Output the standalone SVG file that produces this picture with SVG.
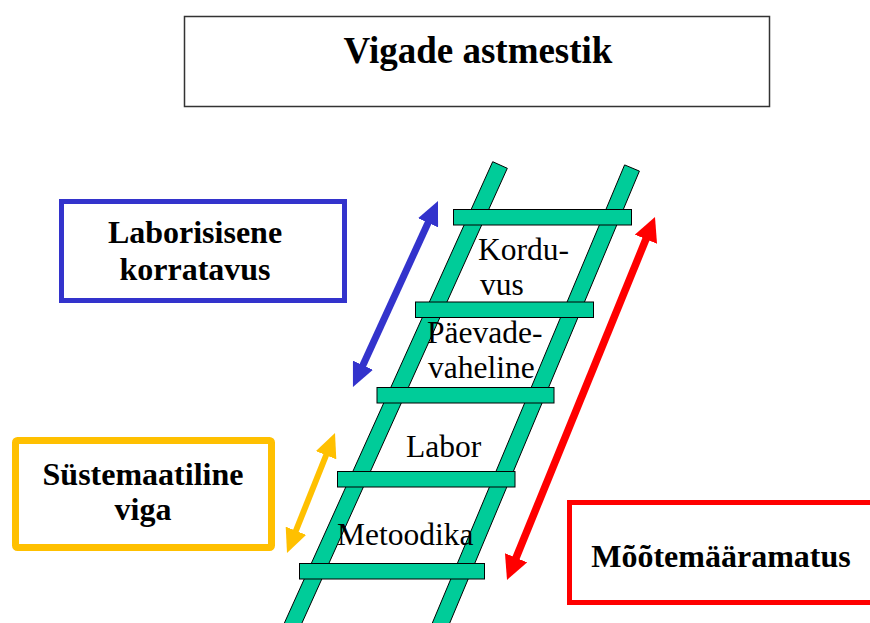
<svg xmlns="http://www.w3.org/2000/svg" width="870" height="623" viewBox="0 0 870 623">
<style>
.rail{fill:#00CC99;stroke:#000;stroke-width:1}
.rung{fill:#00CC99;stroke:#000;stroke-width:1}
.lbl{font-family:"Liberation Serif","Times New Roman",serif;font-size:31.5px;fill:#000}
.bold{font-family:"Liberation Serif","Times New Roman",serif;font-size:32px;font-weight:bold;fill:#000;text-anchor:middle}
.shaft{fill:none;stroke-linecap:butt}
</style>
<defs>
<marker id="hb" markerUnits="userSpaceOnUse" viewBox="0 0 24 22" refX="10" refY="11" markerWidth="24" markerHeight="22" orient="auto-start-reverse"><path d="M0,0 L24,11 L0,22 Z" fill="#3333CC"/></marker>
<marker id="hy" markerUnits="userSpaceOnUse" viewBox="0 0 24 22" refX="10" refY="11" markerWidth="24" markerHeight="22" orient="auto-start-reverse"><path d="M0,0 L24,11 L0,22 Z" fill="#FFC000"/></marker>
<marker id="hr" markerUnits="userSpaceOnUse" viewBox="0 0 24 24" refX="10" refY="12" markerWidth="24" markerHeight="24" orient="auto-start-reverse"><path d="M0,0 L24,12 L0,24 Z" fill="#FF0000"/></marker>
</defs>
<rect width="870" height="623" fill="#fff"/>

<g id="title">
<rect x="184.5" y="16.5" width="585" height="90" fill="#fff" stroke="#333" stroke-width="1.5"/>
<text x="478" y="63" class="bold" style="font-size:37px">Vigade astmestik</text>
</g>

<g id="ladder">
<polygon class="rail" points="492.7,161.7 507.3,168.3 292.8,643.3 278.2,636.7"/>
<polygon class="rail" points="624.6,164.9 639.4,171.1 441.3,643.1 426.5,636.9"/>
<rect class="rung" x="453.5" y="209.5" width="178" height="15.5"/>
<rect class="rung" x="415.5" y="302" width="178" height="15.5"/>
<rect class="rung" x="377" y="387.5" width="177" height="15.5"/>
<rect class="rung" x="337.5" y="471.5" width="177.5" height="15.5"/>
<rect class="rung" x="299.5" y="563.5" width="185" height="15.5"/>
</g>

<g id="step-kordu">
<text class="lbl" x="478" y="260">Kordu-</text>
<text class="lbl" x="480" y="295">vus</text>
</g>
<g id="step-paevade">
<text class="lbl" x="427" y="343">Päevade-</text>
<text class="lbl" x="428" y="378">vaheline</text>
</g>
<g id="step-labor">
<text class="lbl" x="406" y="457">Labor</text>
</g>
<g id="step-metoodika">
<text class="lbl" x="337" y="545">Metoodika</text>
</g>

<g id="box-labor">
<rect x="61.5" y="201.5" width="283" height="99" fill="#fff" stroke="#3333CC" stroke-width="5"/>
<text class="bold" x="195" y="243">Laborisisene</text>
<text class="bold" x="195" y="280">korratavus</text>
</g>

<g id="box-systematic">
<rect x="15.5" y="440.5" width="256" height="107" rx="2" fill="#fff" stroke="#FFC000" stroke-width="7" stroke-linejoin="round"/>
<text class="bold" x="143" y="485">Süstemaatiline</text>
<text class="bold" x="143" y="520">viga</text>
</g>

<g id="box-uncertainty">
<rect x="569.5" y="502.5" width="310" height="100" fill="#fff" stroke="#FF0000" stroke-width="5"/>
<text class="bold" x="721" y="567">Mõõtemääramatus</text>
</g>

<g id="connectors">
<line class="shaft" x1="358.8" y1="374.3" x2="432.2" y2="213.7" stroke="#3333CC" stroke-width="7" marker-start="url(#hb)" marker-end="url(#hb)"/>
<line class="shaft" x1="292.2" y1="540" x2="329.8" y2="446" stroke="#FFC000" stroke-width="6" marker-start="url(#hy)" marker-end="url(#hy)"/>
<line class="shaft" x1="512.3" y1="567" x2="649.7" y2="230" stroke="#FF0000" stroke-width="7.5" marker-start="url(#hr)" marker-end="url(#hr)"/>
</g>
</svg>
